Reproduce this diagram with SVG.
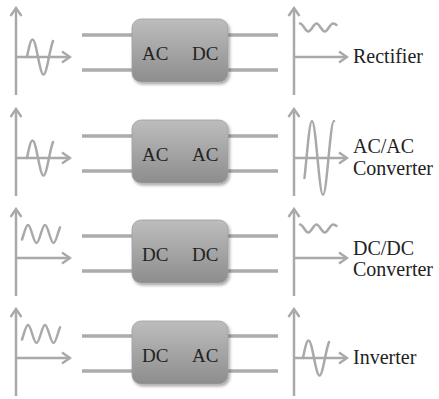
<svg xmlns="http://www.w3.org/2000/svg" width="439" height="399" viewBox="0 0 439 399">
<style>
.ax{fill:none;stroke:#a9a9a9;stroke-width:2.5;marker-end:url(#ah)}
.wv{fill:none;stroke:#a9a9a9;stroke-width:2.5;stroke-linecap:round;stroke-linejoin:round}
.wire{fill:none;stroke:#acacac;stroke-width:3.5}
.box{fill:url(#bg);stroke:#a0a0a0;stroke-width:0.8;filter:url(#sh)}
.bt{font-family:"Liberation Serif","Times New Roman",serif;font-size:19px;fill:#222}
.lb{font-family:"Liberation Serif","Times New Roman",serif;font-size:20px;fill:#222}
</style>
<defs>
<marker id="ah" viewBox="-10 -7 12 14" refX="0" refY="0" markerWidth="12" markerHeight="14" markerUnits="userSpaceOnUse" orient="auto">
<path d="M-8,-5.5 L0,0 L-8,5.5" fill="none" stroke="#a9a9a9" stroke-width="2.4"/>
</marker>
<linearGradient id="bg" x1="0" y1="0" x2="0" y2="1">
<stop offset="0" stop-color="#bdbdbd"/>
<stop offset="1" stop-color="#8d8d8d"/>
</linearGradient>
<filter id="sh" x="-10%" y="-10%" width="130%" height="130%">
<feDropShadow dx="1.5" dy="2" stdDeviation="1.5" flood-color="#000" flood-opacity="0.35"/>
</filter>
<path id="sine" d="M27,57 C28.79,48.04 30.64,39.5 32.5,39.5 C34.36,39.5 36.21,48.04 38,57 C39.79,65.96 41.64,74.5 43.5,74.5 C45.36,74.5 47.21,65.96 49,57 C50.6,49 51.9,44 53,41"/>
<path id="ripple" d="M300,23.5 C301.4,23.5 302.78,25.45 304.125,27.5 C305.47,29.55 306.86,31.5 308.25,31.5 C309.65,31.5 311.03,29.55 312.375,27.5 C313.72,25.45 315.11,23.5 316.5,23.5 C317.9,23.5 319.28,25.45 320.625,27.5 C321.97,29.55 323.36,31.5 324.75,31.5 C326.15,31.5 327.53,29.55 328.875,27.5 C330.22,25.45 331.61,23.5 333,23.5 C334.4,23.5 335.6,24.2 336.5,25"/>
<path id="dcin" d="M22,38.5 L23.75,33 C25.135,28.39 26.56,24 28,24 C29.44,24 30.865,28.39 32.25,33 C33.635,37.61 35.06,42 36.5,42 C37.94,42 39.365,37.61 40.75,33 C42.135,28.39 43.56,24 45,24 C46.44,24 47.865,28.39 49.25,33 C50.635,37.61 52.06,42 53.5,42 C54.94,42 56.365,37.61 57.75,33 C58.5,30.5 59.3,28.3 60,26.4"/>
</defs>
<rect width="439" height="399" fill="#fff"/>

<g id="connectors">
<path class="wire" d="M82,35 H133 M82,70 H133 M227,35 H278 M227,70 H278"/>
<path class="wire" d="M82,136 H133 M82,171 H133 M227,136 H278 M227,171 H278"/>
<path class="wire" d="M82,236 H133 M82,271 H133 M227,236 H278 M227,271 H278"/>
<path class="wire" d="M82,336 H133 M82,371 H133 M227,336 H278 M227,371 H278"/>
</g>

<g id="rectifier-input">
<path class="ax" d="M16,95 V8"/><path class="ax" d="M16,57 H70"/>
<use href="#sine" class="wv"/>
</g>
<g id="rectifier">
<rect class="box" x="132" y="19" width="96" height="63" rx="9"/>
<text class="bt" x="142" y="60">AC</text><text class="bt" x="192" y="60">DC</text>
</g>
<g id="rectifier-output">
<path class="ax" d="M294,95 V8"/><path class="ax" d="M294,57 H347"/>
<use href="#ripple" class="wv"/>
<text class="lb" x="353" y="63">Rectifier</text>
</g>

<g id="acac-input" transform="translate(0,101)">
<path class="ax" d="M16,95 V8"/><path class="ax" d="M16,57 H70"/>
<use href="#sine" class="wv"/>
</g>
<g id="acac-converter" transform="translate(0,101)">
<rect class="box" x="132" y="19" width="96" height="63" rx="9"/>
<text class="bt" x="142" y="60">AC</text><text class="bt" x="192" y="60">AC</text>
</g>
<g id="acac-output" transform="translate(0,101)">
<path class="ax" d="M294,95 V8"/><path class="ax" d="M294,57 H347"/>
<path class="wv" d="M304.5,77 L306.5,57 C308.29,38.06 310.14,20 312,20 C313.86,20 315.71,38.06 317.5,57 C319.29,75.94 321.14,94 323,94 C324.86,94 326.71,75.94 328.5,57 C330.29,38.06 332.14,20 334,20"/>
<text class="lb" x="353" y="52">AC/AC</text>
<text class="lb" x="353" y="74">Converter</text>
</g>

<g id="dcdc-input" transform="translate(0,201)">
<path class="ax" d="M16,95 V8"/><path class="ax" d="M16,57 H70"/>
<use href="#dcin" class="wv"/>
</g>
<g id="dcdc-converter" transform="translate(0,201)">
<rect class="box" x="132" y="19" width="96" height="63" rx="9"/>
<text class="bt" x="142" y="60">DC</text><text class="bt" x="192" y="60">DC</text>
</g>
<g id="dcdc-output" transform="translate(0,201)">
<path class="ax" d="M294,95 V8"/><path class="ax" d="M294,57 H347"/>
<use href="#ripple" class="wv"/>
<text class="lb" x="353" y="54">DC/DC</text>
<text class="lb" x="353" y="75">Converter</text>
</g>

<g id="inverter-input" transform="translate(0,301)">
<path class="ax" d="M16,95 V8"/><path class="ax" d="M16,57 H70"/>
<use href="#dcin" class="wv"/>
</g>
<g id="inverter" transform="translate(0,301)">
<rect class="box" x="132" y="20" width="96" height="63" rx="9"/>
<text class="bt" x="142" y="61">DC</text><text class="bt" x="192" y="61">AC</text>
</g>
<g id="inverter-output" transform="translate(276,301)">
<path class="ax" d="M18,95 V8"/><path class="ax" d="M18,57 H71"/>
<use href="#sine" class="wv"/>
<text class="lb" x="77" y="63">Inverter</text>
</g>
</svg>
